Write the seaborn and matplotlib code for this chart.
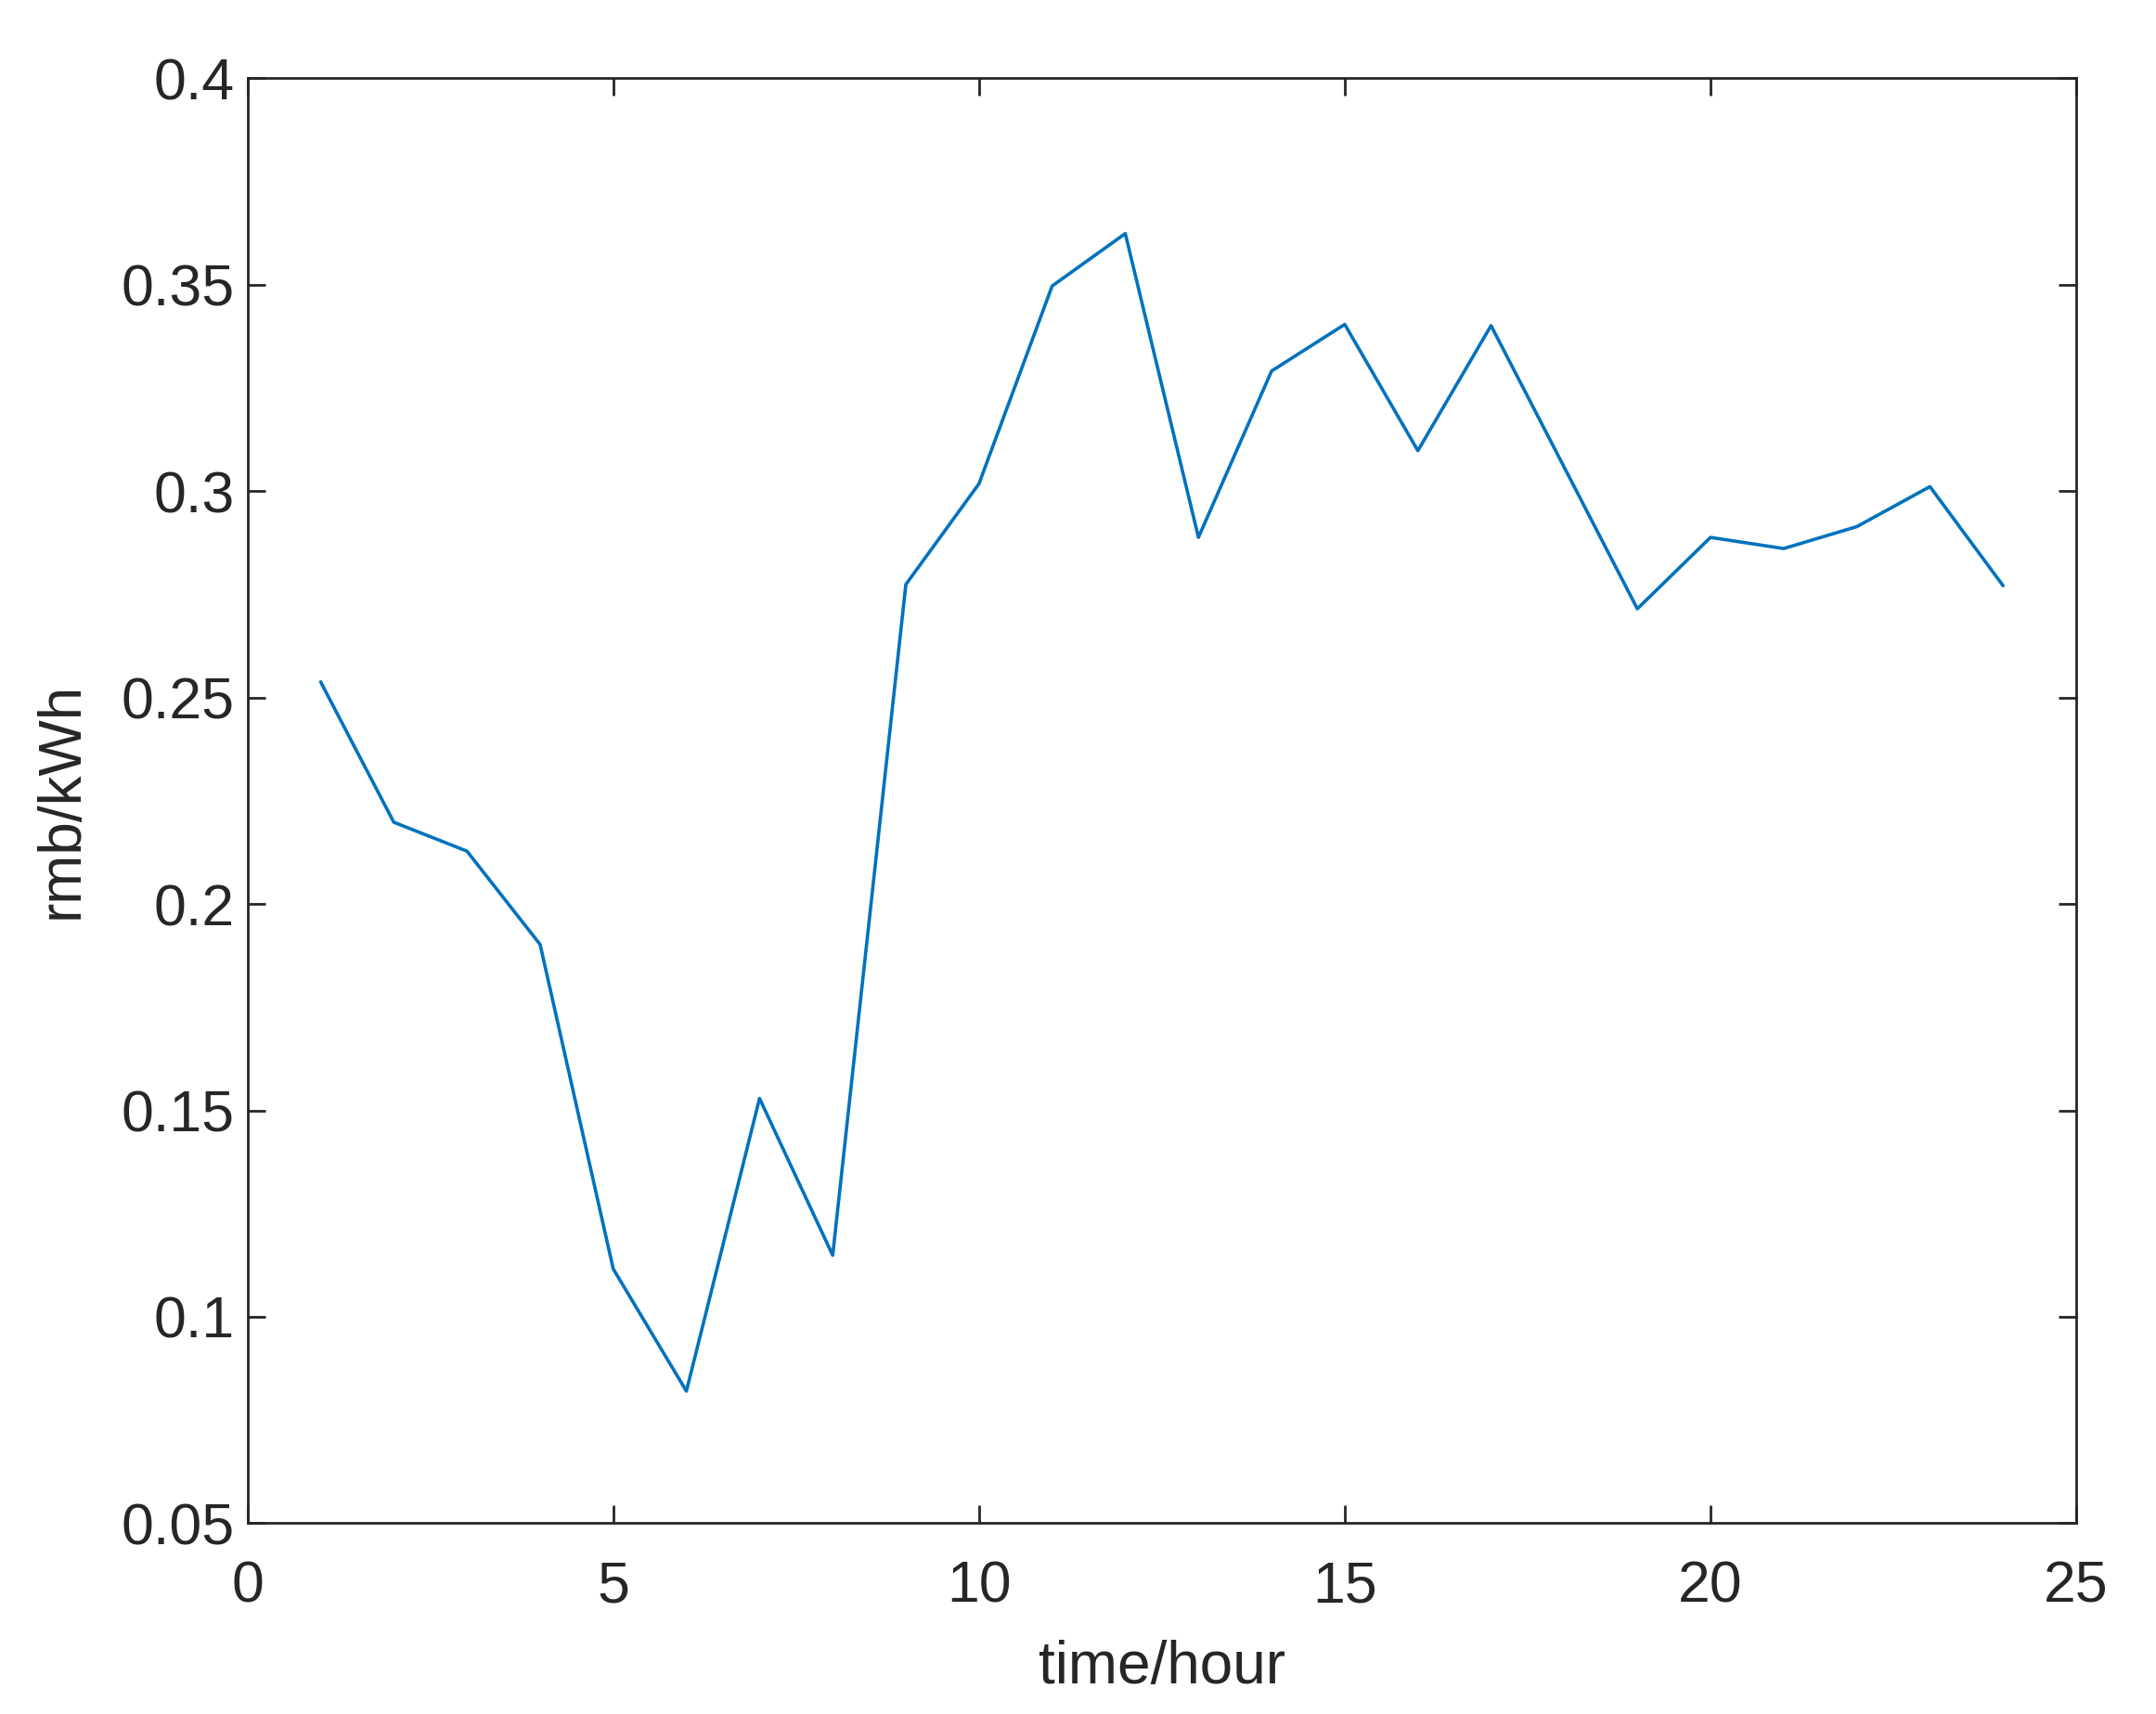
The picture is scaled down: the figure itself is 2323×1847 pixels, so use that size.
import matplotlib
matplotlib.use("Agg")
import matplotlib.pyplot as plt
import seaborn as sns
import pandas as pd

hours = list(range(1, 25))
price = [0.2538, 0.2198, 0.2128, 0.1902, 0.1116, 0.0820, 0.1529, 0.1149,
         0.2774, 0.3018, 0.3497, 0.3624, 0.2888, 0.3291, 0.3404, 0.3098,
         0.3401, 0.3058, 0.2715, 0.2888, 0.2861, 0.2914, 0.3011, 0.2771]
xticks = [0, 5, 10, 15, 20, 25]
yticks = [0.05, 0.1, 0.15, 0.2, 0.25, 0.3, 0.35, 0.4]
ytick_labels = ["0.05", "0.1", "0.15", "0.2", "0.25", "0.3", "0.35", "0.4"]

sns.set_style("white")
plt.rcParams['font.family'] = ['Liberation Sans', 'DejaVu Sans']

df = pd.DataFrame({"time/hour": hours, "rmb/kWh": price})

fig = plt.figure(figsize=(23.23, 18.47), dpi=100)
ax = fig.add_axes([0.1148, 0.1113, 0.9630 - 0.1148, 0.9543 - 0.1113])
sns.lineplot(data=df, x="time/hour", y="rmb/kWh", ax=ax, color="#0072BD", linewidth=2.6)

ax.set_xlim(0, 25)
ax.set_ylim(0.05, 0.4)
ax.set_xticks(xticks)
ax.set_yticks(yticks)
ax.set_yticklabels(ytick_labels)
ax.tick_params(direction="in", length=14, width=2, labelsize=45, colors="#262626",
               top=True, right=True, bottom=True, left=True)
ax.tick_params(axis="x", pad=28)
ax.tick_params(axis="y", pad=10)
for s in ax.spines.values():
    s.set_linewidth(2)
    s.set_color("#262626")
ax.set_xlabel("time/hour", fontsize=46, color="#262626", va="center")
ax.set_ylabel("rmb/kWh", fontsize=46, color="#262626", va="center")
ax.xaxis.set_label_coords(0.5, -0.0999)
ax.yaxis.set_label_coords(-0.1014, 0.5)

fig.savefig("out.png", dpi=100)
